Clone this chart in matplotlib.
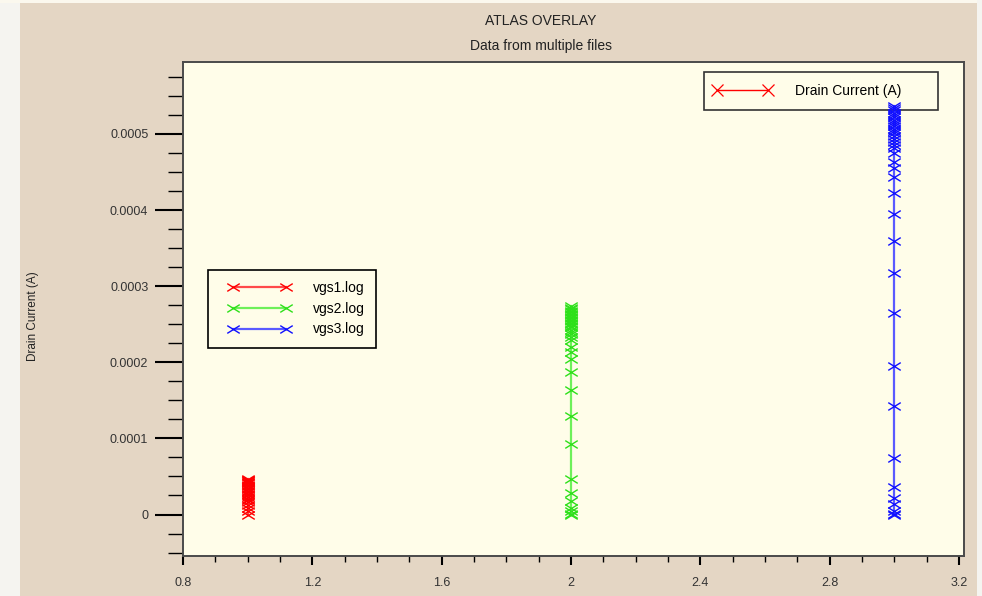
import matplotlib
matplotlib.use("Agg")
import matplotlib.pyplot as plt
import numpy as np
from matplotlib.path import Path
from matplotlib.lines import Line2D
from matplotlib.patches import Rectangle
from matplotlib.legend_handler import HandlerLine2D
from matplotlib.ticker import MultipleLocator, FuncFormatter

plt.rcParams['font.family'] = ['Liberation Sans', 'DejaVu Sans']

# data: drain current (A) per gate voltage file
vgs1_x = 1.0
vgs1_id = [0.0, 0.000004, 0.000008, 0.000012, 0.000016, 0.000019, 0.000021,
           0.000023, 0.000025, 0.000027, 0.000029, 0.000031, 0.000033,
           0.000035, 0.000037, 0.000039, 0.000041, 0.000042, 0.000043,
           0.000044, 0.000045, 0.000046, 0.000047]
vgs2_x = 2.0
vgs2_id = [0.0, 0.000001, 0.000005, 0.000009, 0.000018, 0.000028, 0.000047,
           0.000093, 0.000130, 0.000163, 0.000187, 0.000205, 0.000213,
           0.000220, 0.000229, 0.000233, 0.000237, 0.000240, 0.000243,
           0.000246, 0.000248, 0.000250, 0.000252, 0.000254, 0.000256,
           0.000258, 0.000260, 0.000262, 0.000264, 0.000266, 0.000268,
           0.000270, 0.000272, 0.000274]
vgs3_x = 3.0
vgs3_id = [0.0, 0.000001, 0.000005, 0.000014, 0.000022, 0.000036, 0.000074,
           0.000143, 0.000195, 0.000265, 0.000317, 0.000359, 0.000395,
           0.000422, 0.000443, 0.000455, 0.000463, 0.000475, 0.000481,
           0.000486, 0.000490, 0.000494, 0.000498, 0.000501, 0.000504,
           0.000507, 0.000510, 0.000513, 0.000516, 0.000519, 0.000522,
           0.000525, 0.000528, 0.000531, 0.000534, 0.000537]
file_labels = ['vgs1.log', 'vgs2.log', 'vgs3.log']
x_ticks = [0.8, 1.2, 1.6, 2.0, 2.4, 2.8, 3.2]
x_tick_labels = ['0.8', '1.2', '1.6', '2', '2.4', '2.8', '3.2']
y_ticks = [0, 0.0001, 0.0002, 0.0003, 0.0004, 0.0005]

W, H = 982, 596
fig = plt.figure(figsize=(W / 100, H / 100), dpi=100)
fig.patch.set_facecolor('#e4d6c4')
fig.patches.append(Rectangle((0, 0), 20 / W, 1, transform=fig.transFigure,
                             facecolor='#f5f4f0', edgecolor='none', zorder=-1))
fig.patches.append(Rectangle((0, 1 - 3 / H), 1, 3 / H, transform=fig.transFigure,
                             facecolor='#fbf8ee', edgecolor='none', zorder=-1))
fig.patches.append(Rectangle((977 / W, 0), 5 / W, 1, transform=fig.transFigure,
                             facecolor='#f5f4f0', edgecolor='none', zorder=-1))

ax = fig.add_axes([183 / W, (H - 556) / H, 781 / W, 494 / H])
ax.set_facecolor('#fffde9')

# flattened cross marker
xmark = Path([(-1, -0.62), (1, 0.62), (-1, 0.62), (1, -0.62)],
             [Path.MOVETO, Path.LINETO, Path.MOVETO, Path.LINETO])

series = [
    (vgs1_x, vgs1_id, '#ff4a4a', '#ff0000'),
    (vgs2_x, vgs2_id, '#6ef05a', '#2ee01a'),
    (vgs3_x, vgs3_id, '#5a5aff', '#1010ff'),
]
handles = []
for (xv, ids, lc, mc), lab in zip(series, file_labels):
    ax.plot([xv] * len(ids), ids, color=lc, lw=1.6, marker=xmark,
            markersize=9, markeredgecolor=mc, markerfacecolor='none',
            markeredgewidth=1.0, zorder=6)
    handles.append(Line2D([], [], color=lc, lw=1.6, marker=xmark, markersize=9,
                          markeredgecolor=mc, markerfacecolor='none',
                          markeredgewidth=1.0, label=lab))

ax.set_xlim(0.8, 3.2155)
ax.set_ylim(-0.0000545, 0.0005946)
ax.set_xticks(x_ticks)
ax.set_xticklabels(x_tick_labels)
ax.xaxis.set_minor_locator(MultipleLocator(0.1))
ax.set_yticks(y_ticks)
ax.yaxis.set_major_formatter(FuncFormatter(lambda v, p: '0' if abs(v) < 1e-12 else f'{v:.4f}'))
ax.yaxis.set_minor_locator(MultipleLocator(0.000025))

ax.tick_params(axis='y', which='major', length=20, width=1.5, pad=5,
               labelsize=9, labelcolor='#333333', color='black')
ax.tick_params(axis='y', which='minor', length=11, width=1.0, color='black')
ax.tick_params(axis='x', which='major', length=6.5, width=1.5, pad=8.5,
               labelsize=9, labelcolor='#333333', color='black')
ax.tick_params(axis='x', which='minor', length=4.3, width=1.0, color='black')
for s in ax.spines.values():
    s.set_color('#4a4a4a')
    s.set_linewidth(1.4)

# legends
ax_w, ax_h = 781, 494
leg1 = ax.legend(handles=handles, loc='upper left', numpoints=2,
                 bbox_to_anchor=((208 - 183) / ax_w, (556 - 270) / ax_h - 0.01,
                                 168 / ax_w, 0.01),
                 mode='expand', borderaxespad=0, fontsize=10,
                 handlelength=5.8, handletextpad=0.95, borderpad=0.8,
                 labelspacing=0.48, fancybox=False, framealpha=1,
                 facecolor='#fffde9', edgecolor='black',
                 handler_map={Line2D: HandlerLine2D(marker_pad=1.0)})
leg1.get_frame().set_linewidth(1.2)
ax.add_artist(leg1)

dc = Line2D([], [], color='#ff0000', lw=1.0, marker='x', markersize=9,
            markeredgewidth=0.9, label='Drain Current (A)')
leg2 = ax.legend(handles=[dc], loc='upper left', numpoints=2,
                 bbox_to_anchor=((704 - 183) / ax_w, (556 - 72) / ax_h - 0.01,
                                 234 / ax_w, 0.01),
                 mode='expand', borderaxespad=0, fontsize=10,
                 handlelength=3.87, handletextpad=1.84, borderpad=0.85,
                 fancybox=False, framealpha=1, facecolor='#fffde9',
                 edgecolor='#333333',
                 handler_map={Line2D: HandlerLine2D(marker_pad=0.1)})
leg2.get_frame().set_linewidth(1.2)

fig.text(541 / W, 1 - 21 / H, 'ATLAS OVERLAY', ha='center', va='center',
         fontsize=10, color='#222222')
fig.text(541 / W, 1 - 46 / H, 'Data from multiple files', ha='center',
         va='center', fontsize=10, color='#222222')
fig.text(33 / W, 1 - 316 / H, 'Drain Current (A)', rotation=90, ha='center',
         va='center', fontsize=8.5, color='#222222')

fig.savefig('out.png', dpi=100, facecolor=fig.get_facecolor())
